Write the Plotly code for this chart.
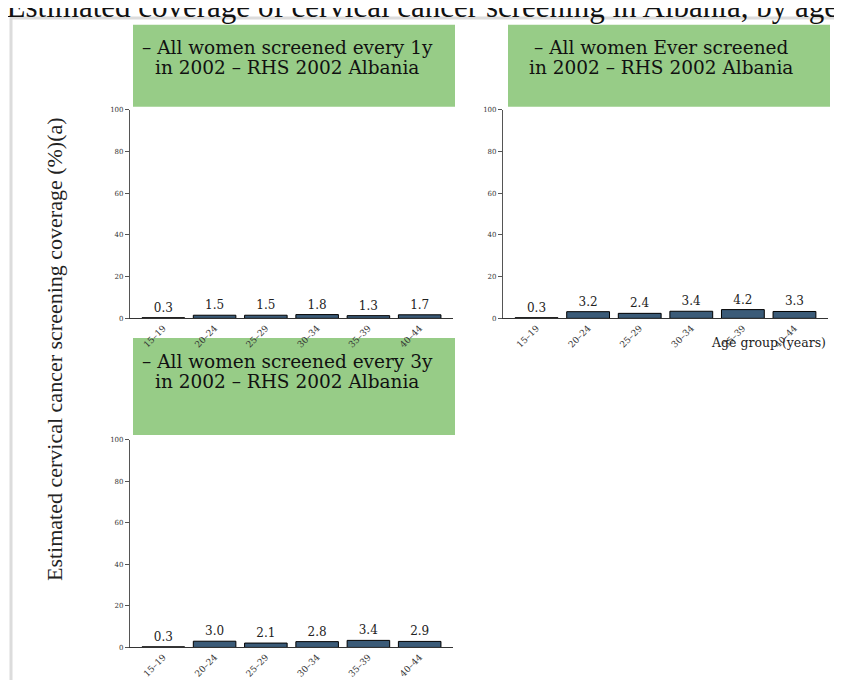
import plotly.graph_objects as go

# Data
age_groups = ["15–19", "20–24", "25–29", "30–34", "35–39", "40–44"]
every_1y = [0.3, 1.5, 1.5, 1.8, 1.3, 1.7]
ever_screened = [0.3, 3.2, 2.4, 3.4, 4.2, 3.3]
every_3y = [0.3, 3.0, 2.1, 2.8, 3.4, 2.9]
panel_titles = [
    ("– All women screened every 1y", "in 2002 – RHS 2002 Albania"),
    ("– All women Ever screened", "in 2002 – RHS 2002 Albania"),
    ("– All women screened every 3y", "in 2002 – RHS 2002 Albania"),
]
y_ticks = [0, 20, 40, 60, 80, 100]

W, H = 842, 680
SERIF = "DejaVu Serif"
TIMES = "Liberation Serif"
BAR = "#3b5b78"
GREEN = "#97cc87"


def px(x):
    return x / W


def py(y):
    return 1 - y / H


fig = go.Figure()

# (x0, x1, y_zero, y_hundred) in pixels
panels = [
    (122, 445, 310, 99),
    (495, 820, 310, 99),
    (122, 445, 643, 433),
]
series = [every_1y, ever_screened, every_3y]
# (x0, x1, top, bottom, text centre x, first line centre y)
headers = [
    (125, 447, 13, 96, 279, 36),
    (500, 822, 13, 96, 653, 36),
    (125, 447, 330, 428, 279, 354),
]

for i, (vals, (x0, x1, y0, y1)) in enumerate(zip(series, panels)):
    n = "" if i == 0 else str(i + 1)
    colors = ["black" if v < 0.5 else BAR for v in vals]
    fig.add_trace(go.Bar(
        x=age_groups, y=vals, xaxis="x" + n, yaxis="y" + n,
        marker=dict(color=colors, line=dict(color="black", width=1)),
        text=[f"{v:.1f}" for v in vals], textposition="outside",
        textfont=dict(family=SERIF, size=12, color="#222"),
        cliponaxis=False, showlegend=False,
    ))
    fig.update_layout(**{
        "xaxis" + n: dict(
            domain=[px(x0), px(x1)], anchor="y" + n, range=[-0.65, 5.65],
            showline=True, linecolor="#333", linewidth=1.2, ticks="",
            tickangle=-45, tickfont=dict(family=SERIF, size=9, color="#333"),
            showgrid=False, zeroline=False,
        ),
        "yaxis" + n: dict(
            domain=[py(y0), py(y1)], anchor="x" + n, range=[0, 100],
            tickvals=y_ticks, showline=True, linecolor="#555", linewidth=1.2,
            ticks="outside", ticklen=4, tickcolor="#555",
            tickfont=dict(family=SERIF, size=7, color="#333"),
            showgrid=False, zeroline=False,
        ),
    })

shapes = [
    # outer frame
    dict(type="rect", xref="paper", yref="paper",
         x0=px(3), x1=px(860), y0=py(700), y1=py(6),
         line=dict(color="#dcdcdc", width=3), fillcolor="rgba(0,0,0,0)", layer="below"),
]
annotations = []
for (bx0, bx1, bt, bb, cx, cy), (line1, line2) in zip(headers, panel_titles):
    shapes.append(dict(type="rect", xref="paper", yref="paper",
                       x0=px(bx0), x1=px(bx1), y0=py(bb), y1=py(bt),
                       fillcolor=GREEN, line=dict(width=0), layer="below"))
    for k, line in enumerate([line1, line2]):
        annotations.append(dict(
            text=line, xref="paper", yref="paper", x=px(cx), y=py(cy + 20 * k),
            xanchor="center", yanchor="middle", showarrow=False,
            font=dict(family=SERIF, size=18.5, color="#111"),
        ))

annotations += [
    dict(text="Figure 1: Estimated coverage of cervical cancer screening in Albania, by age group",
         xref="paper", yref="paper", x=px(-124), y=py(14), xanchor="left", yanchor="bottom",
         showarrow=False, font=dict(family=TIMES, size=31, color="#111")),
    dict(text="Estimated cervical cancer screening coverage (%)(a)", textangle=-90,
         xref="paper", yref="paper", x=px(47), y=py(341), xanchor="center", yanchor="middle",
         showarrow=False, font=dict(family=TIMES, size=22, color="#222")),
    dict(text="Age group (years)", xref="paper", yref="paper", x=px(820), y=py(334),
         xanchor="right", yanchor="middle", showarrow=False,
         font=dict(family=SERIF, size=12.5, color="#222")),
]

fig.update_layout(
    width=W, height=H,
    margin=dict(l=0, r=0, t=0, b=0),
    paper_bgcolor="white", plot_bgcolor="rgba(0,0,0,0)",
    bargap=0.17, shapes=shapes, annotations=annotations,
)

fig.write_html("out.html")
